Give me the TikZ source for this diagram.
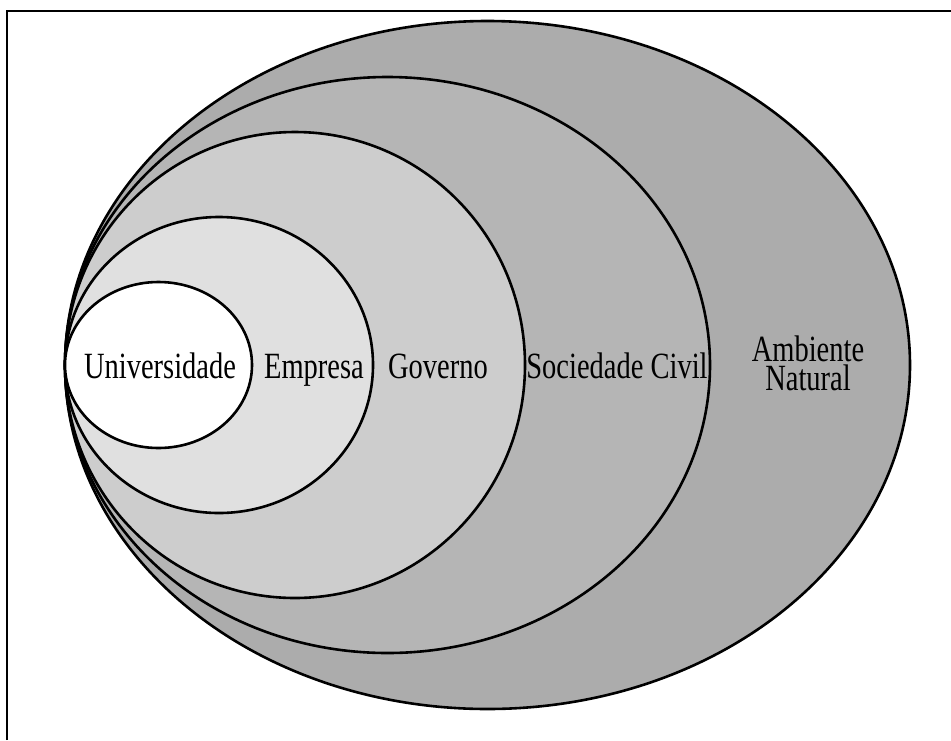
\documentclass[tikz,border=0pt]{standalone}
\usepackage{fontspec}
\setmainfont{Liberation Serif}[FakeStretch=0.77]
\definecolor{natgray}{gray}{0.675}
\definecolor{socgray}{gray}{0.71}
\definecolor{govgray}{gray}{0.805}
\definecolor{empgray}{gray}{0.88}

\begin{document}
\begin{tikzpicture}[x=1pt,y=-1pt,
  ring/.style={draw=black, line width=2.6pt},
  lbl/.style={font=\fontsize{37}{29}\selectfont, inner sep=0pt, anchor=base}]
\useasboundingbox (0,0) rectangle (951,740);
\draw[line width=2.4pt] (7,740) -- (7,11) -- (951,11);
\draw[ring, fill=natgray] (487.5,365) ellipse [x radius=422.5, y radius=344];
\draw[ring, fill=socgray] (387.5,365) ellipse [x radius=322.5, y radius=288];
\draw[ring, fill=govgray] (295,365) ellipse [x radius=230, y radius=233];
\draw[ring, fill=empgray] (219,365) ellipse [x radius=154, y radius=148];
\draw[ring, fill=white] (158.5,365) ellipse [x radius=93.5, y radius=83];
\node[lbl] (univ) at (160,378) {Universidade};
\node[lbl] (emp) at (314,378) {Empresa};
\node[lbl] (gov) at (438,378) {Governo};
\node[lbl] (soc) at (617,378) {Sociedade Civil};
\node[lbl, align=center] (amb) at (808,390) {Ambiente\\Natural};
\end{tikzpicture}
\end{document}
